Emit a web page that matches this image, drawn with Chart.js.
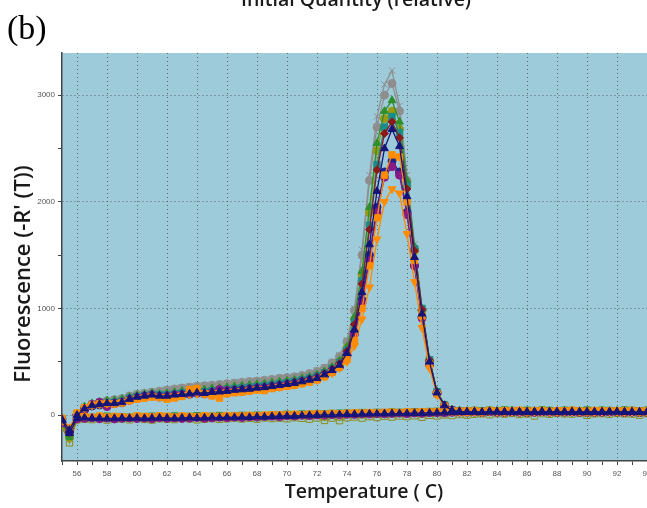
<!DOCTYPE html>
<html>
<head>
<meta charset="utf-8">
<script src="https://cdn.jsdelivr.net/npm/chart.js@4.4.1/dist/chart.umd.min.js"></script>
<style>
  html, body { margin: 0; padding: 0; background: #fff; overflow: hidden; }
  #meltChart { display: block; }
</style>
</head>
<body>
<canvas id="meltChart" width="700" height="508"></canvas>
<script>
// melt temperatures (C), one reading every 0.5 degree
const temps = [55, 55.5, 56, 56.5, 57, 57.5, 58, 58.5, 59, 59.5, 60, 60.5, 61, 61.5, 62, 62.5, 63, 63.5, 64, 64.5,
  65, 65.5, 66, 66.5, 67, 67.5, 68, 68.5, 69, 69.5, 70, 70.5, 71, 71.5, 72, 72.5, 73, 73.5,
  74, 74.5, 75, 75.5, 76, 76.5, 77, 77.5, 78, 78.5, 79, 79.5, 80, 80.5, 81, 81.5, 82,
  82.5, 83, 83.5, 84, 84.5, 85, 85.5, 86, 86.5, 87, 87.5, 88, 88.5, 89, 89.5, 90, 90.5, 91, 91.5, 92, 92.5, 93, 93.5, 94];

const xTicks = [55, 56, 57, 58, 59, 60, 61, 62, 63, 64, 65, 66, 67, 68, 69, 70, 71, 72, 73, 74, 75, 76,
  77, 78, 79, 80, 81, 82, 83, 84, 85, 86, 87, 88, 89, 90, 91, 92, 93, 94, 95, 96, 97];
const yTicks = [0, 500, 1000, 1500, 2000, 2500, 3000];

// -dF/dT of the amplified samples
const navyTri = [-40, -140, 0, 60, 90, 100, 110, 110, 120, 150, 170, 180, 190, 180, 180, 190, 195, 200, 210, 205,
  215, 220, 225, 235, 240, 245, 255, 260, 270, 280, 290, 300, 315, 330, 345, 380, 420, 470,
  580, 800, 1150, 1600, 2100, 2500, 2680, 2520, 2050, 1480, 950, 500, 210, 90, 45, 35, 30,
  30, 25, 35, 30, 28, 32, 30, 25, 30, 35, 30, 28, 30, 32, 30, 25, 28, 30, 32, 30, 28, 30, 25, 28];
const grayX = [-120, -230, -20, 80, 110, 130, 140, 150, 160, 190, 200, 210, 225, 230, 240, 250, 260, 270, 275, 280,
  285, 290, 300, 305, 310, 320, 325, 330, 340, 350, 355, 365, 375, 395, 420, 450, 500, 560,
  700, 1000, 1550, 2250, 2800, 3100, 3230, 2900, 2250, 1600, 1000, 520, 220, 95, 50, 40, 35,
  35, 30, 40, 35, 30, 38, 32, 30, 35, 40, 33, 30, 35, 38, 32, 30, 33, 36, 30, 34, 32, 35, 30, 33];
const grayCircle = [-100, -200, -10, 70, 100, 120, 135, 145, 155, 180, 195, 205, 215, 225, 235, 245, 255, 262, 270, 275,
  280, 288, 295, 300, 308, 315, 320, 328, 335, 345, 352, 360, 372, 390, 410, 440, 490, 550,
  690, 980, 1500, 2200, 2700, 3000, 3110, 2850, 2200, 1560, 980, 510, 215, 92, 48, 38, 33,
  33, 30, 36, 32, 30, 35, 31, 29, 33, 37, 31, 30, 33, 36, 31, 29, 32, 34, 30, 33, 31, 34, 29, 32];
const green = [-60, -170, 10, 80, 110, 125, 135, 140, 150, 170, 185, 195, 205, 200, 205, 215, 225, 230, 240, 240,
  250, 255, 262, 270, 275, 282, 290, 295, 305, 315, 322, 332, 345, 360, 380, 410, 450, 510,
  640, 920, 1350, 1950, 2550, 2850, 2950, 2750, 2200, 1580, 1000, 520, 220, 95, 50, 40, 35,
  40, 35, 42, 38, 35, 40, 36, 34, 38, 42, 36, 35, 38, 40, 36, 34, 37, 39, 35, 38, 36, 39, 34, 37];
const olive = [-90, -210, -30, 50, 90, 105, 115, 120, 130, 155, 170, 180, 190, 185, 190, 200, 205, 212, 220, 220,
  228, 235, 240, 250, 255, 262, 270, 275, 285, 295, 305, 315, 330, 345, 365, 395, 440, 500,
  630, 900, 1320, 1900, 2480, 2780, 2850, 2680, 2150, 1540, 980, 510, 215, 92, 48, 38, 33,
  28, 24, 32, 28, 25, 30, 27, 23, 28, 32, 27, 25, 28, 30, 27, 23, 26, 28, 30, 27, 25, 28, 23, 26];
const teal = [-50, -150, 5, 65, 95, 108, 118, 122, 132, 160, 175, 185, 195, 190, 192, 200, 208, 215, 222, 220,
  230, 236, 242, 250, 256, 262, 270, 277, 286, 296, 306, 318, 332, 348, 368, 398, 440, 495,
  610, 870, 1260, 1780, 2350, 2700, 2800, 2650, 2150, 1560, 1000, 520, 220, 95, 48, 38, 33,
  36, 32, 38, 34, 32, 36, 33, 30, 34, 38, 33, 32, 34, 37, 33, 30, 33, 35, 32, 35, 33, 36, 31, 33];
const darkRed = [-45, -135, 8, 62, 92, 104, 114, 116, 126, 154, 172, 182, 192, 184, 186, 195, 200, 206, 215, 212,
  222, 228, 234, 242, 248, 254, 262, 268, 278, 288, 298, 310, 324, 340, 360, 392, 432, 485,
  600, 850, 1230, 1740, 2300, 2640, 2750, 2600, 2120, 1540, 990, 515, 218, 93, 47, 37, 32,
  32, 28, 36, 31, 29, 34, 31, 27, 32, 36, 31, 29, 32, 34, 31, 27, 30, 32, 34, 31, 29, 32, 27, 30];
const navyCircle = [-35, -125, 5, 55, 85, 95, 105, 108, 116, 142, 162, 172, 182, 174, 175, 184, 190, 196, 205, 200,
  210, 215, 220, 230, 235, 240, 250, 255, 265, 275, 285, 295, 310, 325, 340, 372, 410, 455,
  560, 770, 1080, 1500, 1950, 2280, 2380, 2280, 1900, 1400, 920, 480, 205, 88, 44, 34, 30,
  30, 26, 34, 29, 27, 31, 29, 25, 29, 34, 29, 27, 29, 31, 29, 25, 27, 29, 31, 29, 27, 29, 25, 27];
const orangeSq = [-60, -120, 20, 70, 95, 105, 110, 105, 115, 135, 150, 160, 170, 165, 150, 160, 175, 240, 250, 200,
  180, 160, 200, 210, 215, 225, 235, 230, 250, 260, 270, 280, 295, 310, 330, 360, 400, 450,
  520, 700, 1000, 1400, 1850, 2250, 2440, 2420, 2000, 1450, 930, 480, 200, 85, 42, 34, 30,
  34, 30, 40, 36, 33, 38, 35, 30, 36, 40, 34, 33, 36, 38, 34, 30, 33, 36, 38, 34, 33, 36, 30, 33];
const orangeDown = [-55, -130, 10, 62, 90, 100, 108, 110, 118, 140, 158, 168, 178, 172, 172, 180, 186, 192, 200, 196,
  205, 210, 215, 224, 228, 234, 242, 248, 256, 266, 276, 286, 300, 315, 332, 360, 395, 440,
  500, 650, 900, 1200, 1650, 2000, 2120, 2080, 1700, 1250, 820, 440, 190, 80, 40, 32, 28,
  30, 26, 36, 31, 29, 34, 31, 27, 32, 36, 31, 29, 32, 34, 31, 27, 30, 32, 34, 31, 29, 32, 27, 30];
const purple = [-70, -160, 0, 50, 100, 120, 80, 110, 120, 140, 160, 175, 185, 170, 175, 188, 192, 198, 205, 200,
  210, 240, 230, 225, 230, 240, 250, 255, 262, 272, 282, 292, 305, 320, 338, 368, 405, 455,
  560, 760, 1050, 1450, 1900, 2230, 2330, 2250, 1880, 1400, 910, 470, 200, 86, 43, 34, 30,
  30, 27, 33, 29, 27, 31, 29, 26, 30, 33, 29, 27, 29, 31, 29, 26, 28, 29, 31, 29, 27, 29, 26, 28];

// no-template controls, flat near zero
const flatNavyTri = [-50, -170, -30, -25, -30, -28, -32, -30, -28, -30, -26, -30, -28, -25, -27, -30, -26, -24, -28, -25,
  -22, -24, -20, -22, -18, -20, -15, -16, -12, -10, -8, -8, -5, -2, 0, 2, 3, 5,
  8, 8, 10, 12, 12, 14, 15, 15, 16, 18, 18, 20, 22, 24, 26, 28, 28,
  30, 28, 30, 32, 30, 28, 30, 32, 30, 28, 30, 32, 30, 28, 30, 32, 30, 28, 30, 32, 30, 28, 30, 30];
const flatOrange = [-30, -120, -10, -14, -20, -8, -18, -12, -15, -20, -8, -12, -16, -6, -10, -18, -8, -12, -14, -6,
  -10, -12, -4, -8, -6, -2, -4, 0, 4, 2, 6, 8, 4, 10, 12, 10, 16, 14,
  18, 22, 20, 24, 22, 26, 28, 24, 30, 28, 32, 30, 34, 36, 34, 38, 40,
  40, 36, 44, 38, 42, 40, 46, 38, 42, 44, 36, 42, 40, 46, 40, 38, 44, 42, 38, 42, 40, 44, 38, 42];
const flatPurple = [-70, -150, -35, -30, -24, -34, -28, -36, -30, -26, -32, -28, -34, -24, -30, -26, -32, -28, -22, -30,
  -26, -20, -24, -18, -22, -14, -18, -12, -10, -14, -6, -8, -2, -4, 2, 0, 6, 4,
  8, 6, 12, 10, 14, 12, 16, 18, 14, 20, 18, 22, 24, 22, 26, 28, 26,
  30, 26, 32, 28, 30, 34, 28, 30, 26, 32, 30, 28, 34, 30, 26, 30, 32, 28, 30, 34, 28, 30, 32, 28];
const flatOlive = [-110, -260, -45, -38, -42, -34, -46, -38, -36, -44, -32, -40, -46, -34, -38, -42, -30, -36, -44, -38,
  -32, -40, -34, -28, -36, -30, -38, -26, -32, -28, -34, -24, -30, -38, -26, -50, -28, -52,
  -24, -18, -28, -14, -22, -10, -18, -8, -14, -6, -20, -2, -8, 2, -4, 6, 0,
  8, 12, 4, 14, 10, 16, 6, 12, -8, 14, 8, 18, 12, 10, 16, -2, 12, 14, 8, 18, 12, 10, 0, 14];
const flatGreen = [-80, -200, -20, -14, -22, -16, -10, -18, -14, -20, -12, -16, -10, -18, -14, -8, -16, -12, -6, -14,
  -10, -4, -12, -8, -2, -6, 0, -4, 4, 2, 8, 4, 10, 8, 14, 12, 16, 18,
  20, 18, 24, 22, 26, 24, 30, 26, 28, 32, 30, 34, 36, 38, 36, 40, 42,
  44, 40, 46, 42, 48, 44, 40, 46, 42, 48, 44, 40, 46, 44, 42, 48, 40, 46, 44, 42, 48, 44, 40, 46];

function series(label, values, color, style, extra) {
  return Object.assign({
    label: label,
    data: temps.map((t, i) => ({ x: t, y: values[i] })),
    borderColor: color,
    backgroundColor: color,
    pointBackgroundColor: color,
    pointBorderColor: color,
    pointStyle: style,
    pointRadius: style === 'rect' ? 4.5 : 4,
    pointBorderWidth: 1,
    borderWidth: 1.3,
    tension: 0
  }, extra || {});
}

// first dataset ends up on top
const datasets = [
  series('NTC 1', flatNavyTri, '#14147a', 'triangle', { pointRadius: 4.5 }),
  series('S1', navyTri, '#14147a', 'triangle', { pointRadius: 4.5 }),
  series('S2', orangeDown, '#ff8c00', 'triangle', { pointRadius: 4.5, pointRotation: 180 }),
  series('S3', orangeSq, '#ff8c00', 'rect'),
  series('NTC 2', flatOrange, '#ff8c00', 'rect'),
  series('S4', purple, '#861a86', 'circle'),
  series('NTC 3', flatPurple, '#861a86', 'circle'),
  series('S5', navyCircle, '#22228e', 'circle'),
  series('S6', darkRed, '#8b1a1a', 'rectRot'),
  series('S7', teal, '#178c8c', 'rect'),
  series('S8', green, '#2f8f2a', 'triangle', { pointRadius: 4.5 }),
  series('NTC 4', flatGreen, '#2f8f2a', 'rect'),
  series('S9', olive, '#9a9a12', 'circle'),
  series('NTC 5', flatOlive, '#8c8c1e', 'rect', { pointBackgroundColor: 'rgba(0,0,0,0)' }),
  series('S10', grayCircle, '#8e8e8e', 'circle'),
  series('S11', grayX, '#8e8e8e', 'crossRot', { pointRadius: 4.5 })
];

const dotted = 'rgba(70, 70, 70, 0.75)';

const decor = {
  id: 'decor',
  beforeDraw(chart) {
    const { ctx, chartArea: a } = chart;
    ctx.save();
    ctx.fillStyle = '#9ecbd9';
    ctx.fillRect(a.left, a.top, a.right - a.left, a.bottom - a.top);
    ctx.restore();
  },
  afterDraw(chart) {
    const ctx = chart.ctx;
    ctx.save();
    ctx.fillStyle = '#000';
    ctx.textBaseline = 'alphabetic';
    ctx.font = '34px "Liberation Serif"';
    ctx.textAlign = 'left';
    ctx.fillText('(b)', 7, 39);

    ctx.fillStyle = '#1a1a1a';
    ctx.textAlign = 'center';
    ctx.font = '600 19.5px "Open Sans"';
    ctx.fillText('Initial Quantity (relative)', 356, 6);

    ctx.font = '600 19.5px "Open Sans"';
    ctx.fillText('Temperature ( C)', 364, 498);

    ctx.font = '600 22px "Open Sans"';
    ctx.textBaseline = 'middle';
    ctx.translate(24, 274);
    ctx.rotate(-Math.PI / 2);
    ctx.fillText("Fluorescence (-R' (T))", 0, 0);
    ctx.restore();
  }
};

new Chart(document.getElementById('meltChart'), {
  type: 'line',
  data: { datasets: datasets },
  options: {
    responsive: false,
    animation: false,
    layout: { padding: { top: 53, right: 8, left: 0, bottom: 0 } },
    plugins: { legend: { display: false }, tooltip: { enabled: false } },
    scales: {
      x: {
        type: 'linear',
        min: 55,
        max: 97,
        afterBuildTicks: axis => { axis.ticks = xTicks.map(v => ({ value: v })); },
        afterFit: axis => { axis.height = 47; },
        ticks: {
          autoSkip: false,
          maxRotation: 0,
          padding: 4,
          color: '#555',
          font: { family: 'Liberation Sans', size: 8 },
          callback: v => (v % 2 === 0 ? String(v) : '')
        },
        grid: {
          color: c => (c.tick && c.tick.value % 2 === 0 ? dotted : 'rgba(0,0,0,0)'),
          tickColor: '#444',
          tickLength: 4,
          lineWidth: 1
        },
        border: { color: '#444', width: 1.5, dash: [1, 3] }
      },
      y: {
        min: -430,
        max: 3395,
        afterBuildTicks: axis => { axis.ticks = yTicks.map(v => ({ value: v })); },
        afterFit: axis => { axis.width = 62; },
        ticks: {
          padding: 3,
          color: '#555',
          font: { family: 'Liberation Sans', size: 8 },
          callback: v => (v % 1000 === 0 ? String(v) : '')
        },
        grid: {
          color: c => (c.tick && c.tick.value % 1000 === 0 ? dotted : 'rgba(0,0,0,0)'),
          tickColor: '#444',
          tickLength: 4,
          lineWidth: 1
        },
        border: { color: '#444', width: 1.5, dash: [1, 3] }
      }
    }
  },
  plugins: [decor]
});
</script>
</body>
</html>
